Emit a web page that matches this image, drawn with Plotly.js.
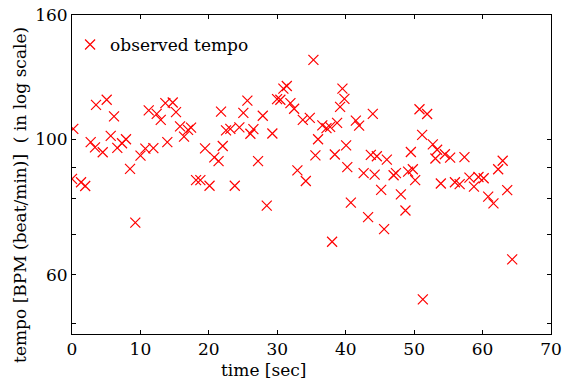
<!DOCTYPE html>
<html>
<head>
<meta charset="utf-8">
<script src="https://cdn.plot.ly/plotly-3.0.1.min.js"></script>
<style>html,body{margin:0;padding:0;background:#fff;}</style>
</head>
<body>
<div id="chart" style="width:574px;height:381px;"></div>
<script>
// time [sec]
const timeSec = [0.00,0.19,1.32,1.93,2.73,3.36,3.51,4.49,5.07,5.66,6.14,6.62,7.31,7.89,8.48,9.25,10.01,10.72,11.21,11.89,
  12.38,12.97,13.64,13.93,14.72,15.20,15.79,16.37,16.96,17.40,18.13,18.76,19.44,20.10,20.80,21.42,21.78,22.03,22.51,23.14,
  23.79,24.46,25.04,25.63,26.07,26.51,27.19,27.88,28.46,29.28,29.97,30.45,30.89,31.39,31.92,32.46,32.94,33.73,34.17,34.75,
  35.28,35.57,35.96,36.58,37.19,37.72,38.01,38.41,38.74,39.18,39.52,39.81,40.06,40.23,40.75,41.48,41.96,42.62,43.27,43.67,
  43.96,44.23,44.55,45.18,45.61,46.01,47.00,47.34,48.06,48.73,49.12,49.52,49.81,50.15,50.78,51.17,51.27,51.90,52.73,53.11,
  53.36,53.90,54.49,55.26,55.96,56.65,57.35,58.08,58.74,59.40,60.16,60.82,61.59,62.28,62.94,63.60,64.33];
// observed tempo [BPM]
const tempoBPM = [86.2,104.1,85.1,83.9,99.0,97.1,114.0,95.3,116.2,101.4,109.1,96.9,98.6,100.1,89.5,73.1,94.1,96.6,111.6,96.8,
  110.2,107.7,114.7,99.0,115.0,110.9,105.1,101.1,103.7,104.6,85.8,85.8,96.7,84.0,93.5,92.2,111.1,97.6,103.5,104.1,
  84.0,104.7,110.6,115.8,102.2,104.0,92.2,109.4,77.9,102.3,116.5,116.2,121.2,122.4,114.7,112.3,89.0,107.7,85.5,108.5,
  135.1,94.2,100.1,105.5,104.4,104.9,68.0,94.5,106.5,113.1,121.2,116.6,97.8,90.1,78.8,107.4,105.4,88.1,74.6,94.4,
  110.2,87.6,93.9,82.7,71.3,92.7,87.4,88.1,81.3,76.5,88.6,95.4,89.4,85.8,112.1,101.8,54.7,110.1,98.2,93.1,
  96.2,84.7,94.6,93.4,85.1,84.5,93.6,86.6,83.7,86.8,86.4,80.6,78.6,89.4,92.3,82.6,63.6];
const xTicks = [0,10,20,30,40,50,60,70];
const yTickVals = [50,60,70,80,90,100,160];
const yTickText = ['','60','','','','100','160'];
const seriesName = 'observed tempo';
const xTitle = 'time [sec]';
const yTitle = 'tempo [BPM (beat/min)]  ( in log scale)';

const FONT = 'DejaVu Serif';
const FS = 17;
const trace = {
  x: timeSec, y: tempoBPM, type: 'scatter', mode: 'markers', name: seriesName,
  marker: {symbol: 'x-thin-open', size: 10, color: 'red', line: {color: 'red', width: 1.2}}
};
const layout = {
  width: 574, height: 381,
  margin: {l: 72, r: 23, t: 15, b: 47, pad: 0},
  paper_bgcolor: '#fff', plot_bgcolor: '#fff',
  font: {family: FONT, size: FS, color: '#000'},
  showlegend: true,
  legend: {x: -0.004, y: 0.906, xanchor: 'left', yanchor: 'middle', bgcolor: 'rgba(0,0,0,0)',
           borderwidth: 0, font: {family: FONT, size: FS, color: '#000'}, itemwidth: 30},
  xaxis: {range: [0, 70], tickmode: 'array', tickvals: xTicks, ticks: 'inside', ticklen: 4, tickwidth: 1,
          tickcolor: '#000', showline: true, linecolor: '#000', linewidth: 1, mirror: 'ticks',
          showgrid: false, zeroline: false, tickfont: {family: FONT, size: FS, color: '#000'}},
  yaxis: {type: 'log', range: [Math.log10(48), Math.log10(160)], tickmode: 'array', tickvals: yTickVals,
          ticktext: yTickText, ticks: 'inside', ticklen: 4, tickwidth: 1, tickcolor: '#000',
          showline: true, linecolor: '#000', linewidth: 1, mirror: 'ticks', showgrid: false, zeroline: false,
          tickfont: {family: FONT, size: FS, color: '#000'}},
  annotations: [
    {text: xTitle, xref: 'paper', yref: 'paper', x: 0.399, y: -0.113, xanchor: 'center', yanchor: 'middle',
     showarrow: false, font: {family: FONT, size: FS, color: '#000'}},
    {text: yTitle, xref: 'paper', yref: 'paper', x: -0.11, y: 0.437, xanchor: 'center', yanchor: 'middle',
     textangle: -90, showarrow: false, font: {family: FONT, size: FS, color: '#000'}}
  ]
};
Plotly.newPlot('chart', [trace], layout, {staticPlot: true, displayModeBar: false});
</script>
</body>
</html>
